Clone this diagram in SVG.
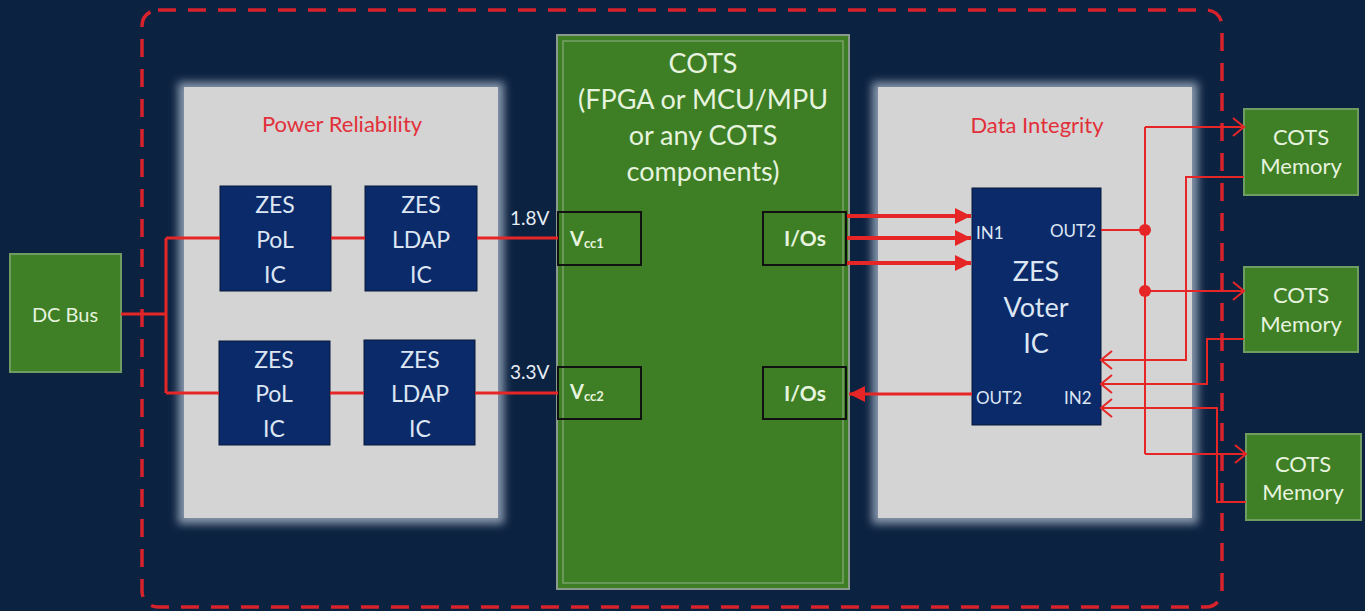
<svg xmlns="http://www.w3.org/2000/svg" width="1365" height="611" viewBox="0 0 1365 611">
<style>
.t{font-family:Lato,"Liberation Sans",sans-serif;text-anchor:middle}
.f{font-family:Lato,"Liberation Sans",sans-serif}
.wt{fill:#dde6f3}
.gt{fill:#e6f3de}
.rt{fill:#e2303a}
.navy{fill:#0b2a6a;stroke:#061838;stroke-width:1}
.grn{fill:#3f7f26;stroke:#6f9c60;stroke-width:2}
.pin{fill:none;stroke:#111;stroke-width:2}
.pw{fill:none;stroke:#e62626;stroke-width:3}
.dl{fill:none;stroke:#e62626;stroke-width:2}
.bus{fill:none;stroke:#e62626;stroke-width:4}
</style>
<defs>
<filter id="glow" x="-10%" y="-10%" width="120%" height="120%"><feGaussianBlur stdDeviation="4"/></filter>
<marker id="fa" markerUnits="userSpaceOnUse" markerWidth="18" markerHeight="18" refX="16" refY="9" orient="auto"><path d="M0,1 L16,9 L0,17 Z" fill="#e62626"/></marker>
<marker id="oa" markerUnits="userSpaceOnUse" markerWidth="14" markerHeight="20" refX="12" refY="10" orient="auto"><path d="M1,1 L12,10 L1,19" fill="none" stroke="#e62626" stroke-width="2"/></marker>
</defs>
<rect width="1365" height="611" fill="#0c2241"/>
<rect x="142" y="10" width="1080" height="597" rx="16" fill="none" stroke="#d8222c" stroke-width="3.5" stroke-dasharray="18 12"/>

<g id="power-panel">
<rect x="178" y="82" width="326" height="442" fill="#8797ab" filter="url(#glow)"/>
<rect x="184" y="87" width="314" height="431" fill="#d4d4d4"/>
<text class="t rt" x="342" y="132" font-size="22">Power Reliability</text>
</g>
<g id="data-panel">
<rect x="872" y="82" width="326" height="442" fill="#8797ab" filter="url(#glow)"/>
<rect x="878" y="87" width="314" height="431" fill="#d4d4d4"/>
<text class="t rt" x="1037" y="133" font-size="22">Data Integrity</text>
</g>

<g id="dc-bus">
<rect class="grn" x="10" y="254" width="111" height="118"/>
<text class="t gt" x="65" y="322" font-size="20">DC Bus</text>
</g>

<g id="pol-1">
<rect class="navy" x="220" y="186" width="111" height="105"/>
<text class="t wt" font-size="23"><tspan x="275" y="213">ZES</tspan><tspan x="275" y="248">PoL</tspan><tspan x="275" y="283">IC</tspan></text>
</g>
<g id="ldap-1">
<rect class="navy" x="365" y="186" width="112" height="105"/>
<text class="t wt" font-size="23"><tspan x="421" y="213">ZES</tspan><tspan x="421" y="248">LDAP</tspan><tspan x="421" y="283">IC</tspan></text>
</g>
<g id="pol-2">
<rect class="navy" x="219" y="341" width="111" height="104"/>
<text class="t wt" font-size="23"><tspan x="274" y="368">ZES</tspan><tspan x="274" y="402">PoL</tspan><tspan x="274" y="437">IC</tspan></text>
</g>
<g id="ldap-2">
<rect class="navy" x="364" y="340" width="111" height="105"/>
<text class="t wt" font-size="23"><tspan x="420" y="368">ZES</tspan><tspan x="420" y="402">LDAP</tspan><tspan x="420" y="437">IC</tspan></text>
</g>

<g id="cots-main">
<rect x="557" y="35" width="292" height="554" fill="#3e7e24" stroke="#8a9a8c" stroke-width="2"/>
<rect x="563" y="41" width="280" height="542" fill="none" stroke="#79a368" stroke-width="1.5"/>
<text class="t gt" font-size="27"><tspan x="703" y="73">COTS</tspan><tspan x="703" y="109">(FPGA or MCU/MPU</tspan><tspan x="703" y="145">or any COTS</tspan><tspan x="703" y="181">components)</tspan></text>
<rect class="pin" x="558" y="212" width="83" height="53"/>
<text class="f gt" x="570" y="246" font-weight="bold" font-size="20">V<tspan font-size="13" dy="2">cc1</tspan></text>
<rect class="pin" x="763" y="212" width="83" height="53"/>
<text class="t gt" x="805" y="246" font-size="21" font-weight="bold">I/Os</text>
<rect class="pin" x="558" y="367" width="83" height="52"/>
<text class="f gt" x="570" y="399" font-weight="bold" font-size="20">V<tspan font-size="13" dy="2">cc2</tspan></text>
<rect class="pin" x="763" y="367" width="83" height="52"/>
<text class="t gt" x="805" y="401" font-size="21" font-weight="bold">I/Os</text>
</g>

<g id="voter">
<rect class="navy" x="972" y="188" width="129" height="237"/>
<text class="f wt" x="976" y="239" font-size="17">IN1</text>
<text class="f wt" x="1096" y="237" font-size="17" text-anchor="end">OUT2</text>
<text class="t wt" font-size="27"><tspan x="1036" y="281">ZES</tspan><tspan x="1036" y="317">Voter</tspan><tspan x="1036" y="353">IC</tspan></text>
<text class="f wt" x="976" y="404" font-size="17">OUT2</text>
<text class="f wt" x="1064" y="404" font-size="17">IN2</text>
</g>

<g id="mem-1">
<rect class="grn" x="1244" y="109" width="114" height="86"/>
<text class="t gt" font-size="22"><tspan x="1301" y="145">COTS</tspan><tspan x="1301" y="174">Memory</tspan></text>
</g>
<g id="mem-2">
<rect class="grn" x="1244" y="267" width="114" height="85"/>
<text class="t gt" font-size="22"><tspan x="1301" y="303">COTS</tspan><tspan x="1301" y="332">Memory</tspan></text>
</g>
<g id="mem-3">
<rect class="grn" x="1246" y="434" width="115" height="86"/>
<text class="t gt" font-size="22"><tspan x="1303" y="472">COTS</tspan><tspan x="1303" y="500">Memory</tspan></text>
</g>

<g id="connectors">
<path class="pw" d="M121 314 H166 M166 238 V393 M166 238 H220 M331 238 H365 M477 238 H558 M166 393 H219 M330 393 H364 M475 393 H558"/>
<text class="f" x="510" y="225" fill="#e6edf5" font-size="19">1.8V</text>
<text class="f" x="510" y="379" fill="#e6edf5" font-size="19">3.3V</text>
<path class="bus" d="M847 216 H971" marker-end="url(#fa)"/>
<path class="bus" d="M847 238 H971" marker-end="url(#fa)"/>
<path class="bus" d="M847 263 H971" marker-end="url(#fa)"/>
<path class="pw" d="M972 394 H849" marker-end="url(#fa)"/>
<path class="dl" d="M1101 230 H1145 M1145 127 V454"/>
<path class="dl" d="M1145 127 H1244" marker-end="url(#oa)"/>
<path class="dl" d="M1145 291 H1244" marker-end="url(#oa)"/>
<path class="dl" d="M1145 454 H1246" marker-end="url(#oa)"/>
<path class="dl" d="M1244 177 H1186 V360 H1101" marker-end="url(#oa)"/>
<path class="dl" d="M1244 339 H1207 V384 H1101" marker-end="url(#oa)"/>
<path class="dl" d="M1246 502 H1217 V408 H1101" marker-end="url(#oa)"/>
<circle cx="1145" cy="230" r="6" fill="#e62626"/>
<circle cx="1145" cy="291" r="6" fill="#e62626"/>
</g>
</svg>
